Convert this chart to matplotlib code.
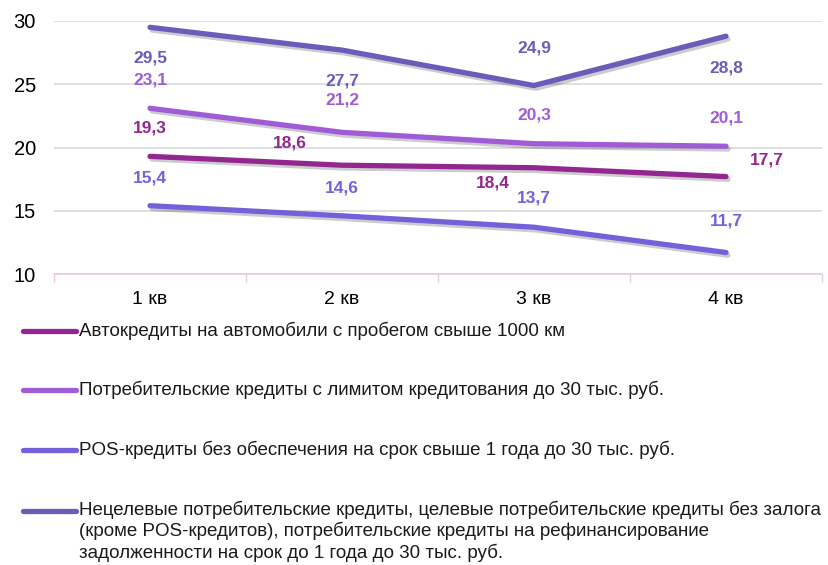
import matplotlib
matplotlib.use("Agg")
import matplotlib.pyplot as plt
import matplotlib.patheffects as pe
from matplotlib.lines import Line2D

plt.rcParams['font.family'] = ['Liberation Sans', 'DejaVu Sans']

categories = ["1 кв", "2 кв", "3 кв", "4 кв"]
avto = [19.3, 18.6, 18.4, 17.7]
potreb = [23.1, 21.2, 20.3, 20.1]
pos = [15.4, 14.6, 13.7, 11.7]
necel = [29.5, 27.7, 24.9, 28.8]

names = [
    "Автокредиты на автомобили с пробегом свыше 1000 км",
    "Потребительские кредиты с лимитом кредитования до 30 тыс. руб.",
    "POS-кредиты без обеспечения на срок свыше 1 года до 30 тыс. руб.",
    "Нецелевые потребительские кредиты, целевые потребительские кредиты без залога\n(кроме POS-кредитов), потребительские кредиты на рефинансирование\nзадолженности на срок до 1 года до 30 тыс. руб.",
]
colors = ["#92278F", "#A05CD6", "#7560D9", "#6A5DB9"]
series = [avto, potreb, pos, necel]

# label offsets in pixels (dx, dy)
offsets = [
    [(0, 28), (-52, 22), (-41, -15), (41, 17)],
    [(0, 28), (0, 32), (0, 29), (0, 28)],
    [(0, 28), (0, 28), (0, 29), (0, 31)],
    [(0, -31), (0, -31), (0, 38), (0, -32)],
]

fig = plt.figure(figsize=(8.29, 5.65), dpi=100)
ax = fig.add_axes([54/829, 1-274/565, (822-54)/829, (274-21)/565])

x = list(range(len(categories)))
shadow = [pe.SimpleLineShadow(offset=(1.5, -2), alpha=0.2, shadow_color='black'), pe.Normal()]
for vals, col, offs in zip(series, colors, offsets):
    ax.plot(x, vals, color=col, lw=3.8, solid_capstyle='round', path_effects=shadow, zorder=3)
    for xi, v, (dx, dy) in zip(x, vals, offs):
        ax.annotate(f"{v:.1f}".replace('.', ','), (xi, v), xytext=(dx, dy),
                    textcoords='offset pixels', ha='center', va='center',
                    color=col, fontsize=12.5, fontweight='bold', zorder=4)

ax.set_xlim(-0.5, 3.5)
ax.set_ylim(10, 30)
ax.set_yticks([10, 15, 20, 25, 30])
ax.yaxis.grid(True, color='#D9D9D9', lw=1.2)
ax.set_axisbelow(True)
ax.set_xticks(x)
ax.set_xticklabels(categories)
ax.set_xticks([-0.5, 0.5, 1.5, 2.5, 3.5], minor=True)
ax.tick_params(axis='x', which='major', length=0, labelsize=14, pad=12)
ax.tick_params(axis='x', which='minor', length=6, color='#E8C9E8', width=1)
ax.tick_params(axis='y', length=0, labelsize=14.5, pad=13)
for s in ['top', 'right', 'left']:
    ax.spines[s].set_visible(False)
ax.spines['bottom'].set_color('#E8C9E8')
ax.spines['bottom'].set_linewidth(1.2)

# legend
leg_y = [331, 390, 450, 511]
for yy, col, name in zip(leg_y, colors, names):
    fy = 1 - yy / 565
    fig.add_artist(Line2D([23/829, 76/829], [fy, fy], color=col, lw=3.8,
                          solid_capstyle='round', transform=fig.transFigure))
    if '\n' in name:
        fig.text(79/829, fy + 10/565, name, ha='left', va='top', fontsize=13.5,
                 color='#1a1a1a', linespacing=1.2)
    else:
        fig.text(79/829, fy, name, ha='left', va='center', fontsize=13.5,
                 color='#1a1a1a')

fig.savefig("out.png", dpi=100)
